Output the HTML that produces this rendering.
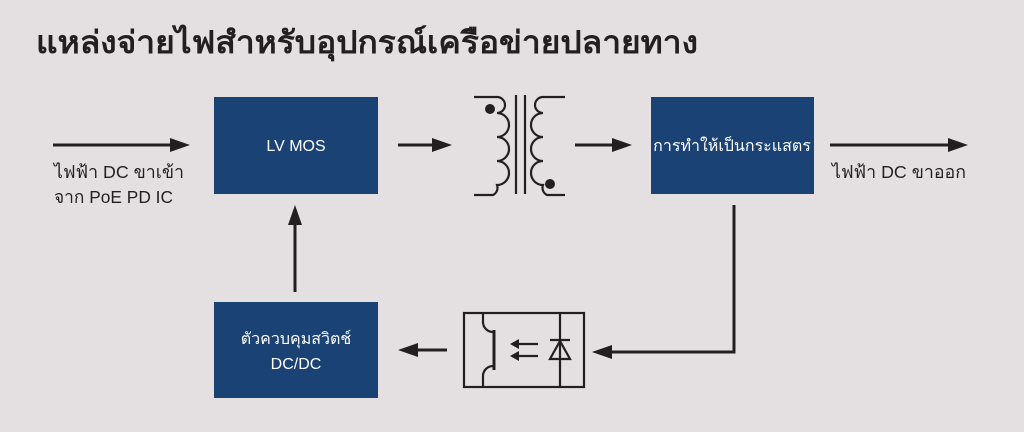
<!DOCTYPE html>
<html><head><meta charset="utf-8"><style>
html,body{margin:0;padding:0;background:#e4e0e1;}
svg{display:block;font-family:"Liberation Sans",sans-serif;}
</style></head><body>
<svg width="1024" height="432" viewBox="0 0 1024 432" xmlns="http://www.w3.org/2000/svg">
<rect width="1024" height="432" fill="#e4e0e1"/>
<text x="36" y="53" font-size="31" font-weight="bold" fill="#231f20" textLength="662" lengthAdjust="spacingAndGlyphs">แหล่งจ่ายไฟสำหรับอุปกรณ์เครือข่ายปลายทาง</text>
<g fill="#1a4275">
<rect x="214" y="97" width="164" height="97"/>
<rect x="651" y="97" width="163" height="97"/>
<rect x="214" y="302" width="164" height="96"/>
</g>
<g fill="#fff" font-size="16" text-anchor="middle">
<text x="296" y="151">LV MOS</text>
<text x="732" y="151">การทำให้เป็นกระแสตร</text>
<text x="296" y="344">ตัวควบคุมสวิตช์</text>
<text x="296" y="369">DC/DC</text>
</g>
<g fill="#231f20" font-size="17.5">
<text x="54" y="178" textLength="130" lengthAdjust="spacingAndGlyphs">ไฟฟ้า DC ขาเข้า</text>
<text x="54" y="203" textLength="119" lengthAdjust="spacingAndGlyphs">จาก PoE PD IC</text>
<text x="832" y="178" textLength="134" lengthAdjust="spacingAndGlyphs">ไฟฟ้า DC ขาออก</text>
</g>
<g stroke="#231f20" stroke-width="3" fill="none">
<line x1="53" y1="145" x2="172" y2="145"/>
<line x1="398" y1="145" x2="436" y2="145"/>
<line x1="575" y1="145" x2="614" y2="145"/>
<line x1="830" y1="145" x2="950" y2="145"/>
<polyline points="734,205 734,352 610,352"/>
<line x1="447" y1="350" x2="416" y2="350"/>
<line x1="295" y1="292" x2="295" y2="224"/>
</g>
<g fill="#231f20">
<polygon points="190,145 170,138 170,152"/>
<polygon points="452,145 432,138 432,152"/>
<polygon points="632,145 612,138 612,152"/>
<polygon points="968,145 948,138 948,152"/>
<polygon points="592,352 612,345 612,359"/>
<polygon points="398,350 418,343 418,357"/>
<polygon points="295,205 288,225 302,225"/>
</g>
<g stroke="#231f20" stroke-width="2.2" fill="none">
<path d="M474,97 H497 a8,8 0 0 1 0,16 a12,12 0 0 1 0,24 a12,12 0 0 1 0,24 a12,12 0 0 1 0,24 a8,8 0 0 1 -4,10 H474"/>
<line x1="516" y1="95" x2="516" y2="194"/>
<line x1="525" y1="95" x2="525" y2="194"/>
<path d="M565,97 H543 a8,8 0 0 0 0,16 a12,12 0 0 0 0,24 a12,12 0 0 0 0,24 a12,12 0 0 0 0,24 a8,8 0 0 0 4,10 H565"/>
</g>
<circle cx="490" cy="109" r="5" fill="#231f20"/>
<circle cx="550" cy="184" r="5" fill="#231f20"/>
<g stroke="#231f20" stroke-width="2.2" fill="none">
<rect x="464" y="313" width="120" height="74"/>
<path d="M483,313 V322 a10,10 0 0 0 10,10"/>
<path d="M483,387 V376 a10,10 0 0 1 10,-10"/>
<line x1="494" y1="330" x2="494" y2="370" stroke-width="3"/>
<line x1="560" y1="313" x2="560" y2="387"/>
<line x1="550" y1="340" x2="570" y2="340"/>
<polygon points="560,341 550,359 570,359"/>
<line x1="516" y1="344" x2="538" y2="344"/>
<line x1="516" y1="356" x2="538" y2="356"/>
</g>
<g fill="#231f20">
<polygon points="510,344 519,339 519,349"/>
<polygon points="510,356 519,351 519,361"/>
</g>
</svg>
</body></html>
